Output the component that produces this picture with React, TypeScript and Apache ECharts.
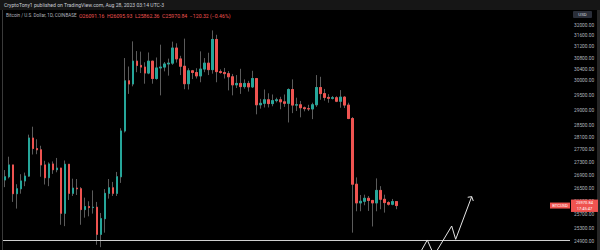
import React, { useEffect, useRef } from "react";
import * as echarts from "echarts";

// ---------- data ----------
const START_DATE = "2023-05-22";
const TOTAL_SLOTS = 142; // 99 candles + empty future space

const opens = [
  26750, 26850, 27220, 26330, 26480, 26720, 26870, 28080, 27740, 27700,
  27220, 26820, 27250, 27070, 27120, 25740, 27240, 26340, 26500, 26480,
  25850, 25940, 25910, 25920, 25120, 25580, 26340, 26510, 26340, 26850,
  28310, 30000, 29890, 30690, 30540, 30480, 30270, 30690, 30080, 30450,
  30480, 30590, 30620, 31160, 30770, 30510, 29900, 30350, 30290, 30170,
  30410, 30620, 30390, 31470, 30320, 30290, 30250, 30140, 29860, 29910,
  29800, 29910, 29790, 30080, 29180, 29230, 29350, 29220, 29320, 29350,
  29280, 29230, 29700, 29170, 29180, 29080, 29050, 29040, 29180, 29770,
  29560, 29430, 29400, 29420, 29300, 29440, 29170, 28720, 26620, 26050,
  26100, 26190, 26125, 26050, 26430, 26160, 26060, 26010, 26091.16,
];
const closes = [
  26850, 27220, 26330, 26480, 26720, 26870, 28080, 27740, 27700, 27220,
  26820, 27250, 27070, 27120, 25740, 27240, 26340, 26500, 26480, 25850,
  25940, 25910, 25920, 25120, 25580, 26340, 26510, 26340, 26850, 28310,
  30000, 29890, 30690, 30540, 30480, 30270, 30690, 30080, 30450, 30480,
  30590, 30620, 31160, 30770, 30510, 29900, 30350, 30290, 30170, 30410,
  30620, 30390, 31470, 30320, 30290, 30250, 30140, 29860, 29910, 29800,
  29910, 29790, 30080, 29180, 29230, 29350, 29220, 29320, 29350, 29280,
  29230, 29700, 29170, 29180, 29080, 29050, 29040, 29180, 29770, 29560,
  29430, 29400, 29420, 29300, 29440, 29170, 28720, 26620, 26050, 26100,
  26190, 26125, 26050, 26430, 26160, 26060, 26010, 26090, 25970.84,
];
const lows = [
  26530, 26800, 26080, 25880, 26330, 26560, 26850, 27550, 27560, 26850,
  26610, 26560, 26940, 26990, 25400, 25360, 26140, 26260, 26290, 25400,
  25610, 25650, 25730, 24820, 24750, 25170, 26180, 26260, 26260, 26660,
  28260, 29550, 29810, 30300, 30270, 29900, 30230, 29900, 30040, 29500,
  30330, 30180, 30560, 30640, 30200, 29710, 29700, 30060, 30080, 29950,
  30300, 30200, 30250, 29950, 30250, 30080, 29670, 29500, 29750, 29550,
  29730, 29630, 29750, 28860, 29050, 29090, 29090, 29130, 29260, 29030,
  29110, 28590, 28900, 28970, 28760, 28960, 28970, 28700, 29110, 29350,
  29320, 29250, 29360, 29270, 29080, 29070, 28700, 25170, 25800, 25800,
  25980, 25810, 25350, 25800, 25860, 25760, 25970, 25980, 25862.36,
];
const highs = [
  27060, 27480, 27220, 26620, 26930, 26980, 28190, 28450, 28040, 27830,
  27350, 27300, 27330, 27440, 27130, 27360, 27250, 26790, 26780, 26530,
  26210, 26100, 26430, 26080, 25750, 26470, 26780, 26690, 27000, 28400,
  30800, 30500, 31400, 31050, 31030, 30650, 31000, 30700, 30820, 31280,
  30660, 30780, 31390, 31330, 30880, 31500, 30440, 30380, 30440, 31040,
  30800, 30990, 31800, 31640, 30400, 30450, 30340, 30240, 30200, 30420,
  30050, 30000, 30350, 30100, 29380, 29700, 29570, 29530, 29420, 29450,
  29530, 29740, 30050, 29420, 29310, 29120, 29180, 29250, 30200, 30140,
  29720, 29540, 29480, 29470, 29680, 29470, 29250, 28770, 26830, 26290,
  26300, 26260, 26140, 26800, 26560, 26300, 26100, 26170, 26095.93,
];

// right price scale labels (USD)
const priceTicks = [
  32000, 31600, 31200, 30800, 30400, 30000, 29500, 29000, 28500, 28100,
  27700, 27300, 26900, 26500, 26100, 25700, 25300, 24900,
];
const Y_MIN = 24670;
const Y_MAX = 32560;

// horizontal support line
const supportLevel = 24950;

// hand-drawn projection zigzag (x in candle slots, y in USD)
const projX = [103.23, 105.76, 107.46, 111.87, 112.87, 116.88];
const projY = [24443, 24957, 24515, 25364, 24977, 26240];
const arrowX = [115.88, 116.88, 117.28];
const arrowY = [26221, 26240, 26109];

const headerText = "CryptoTony1 published on TradingView.com, Aug 28, 2023 03:14 UTC-3";
const symbolText = "Bitcoin / U.S. Dollar, 1D, COINBASE";
const ohlcItems = ["O26091.16", "H26095.93", "L25862.36", "C25970.84", "\u2212120.32 (\u22120.46%)"];
const countdownText = "17:45:47";

const UP = "#26a69a";
const DOWN = "#ef5350";
const WICK = "#5b5b5b";

function makeDates(start: string, n: number): string[] {
  const out: string[] = [];
  const d0 = new Date(start + "T00:00:00Z").getTime();
  for (let i = 0; i < n; i++) {
    out.push(new Date(d0 + i * 86400000).toISOString().slice(0, 10));
  }
  return out;
}

export default function App() {
  const ref = useRef<HTMLDivElement>(null);
  useEffect(() => {
    if (!ref.current) return;
    document.body.style.margin = "0";
    document.body.style.background = "#000";
    const chart = echarts.init(ref.current, null, { renderer: "svg" });
    const cats = makeDates(START_DATE, TOTAL_SLOTS);
    const full = opens.map((o, i) => [o, closes[i], lows[i], highs[i]]);
    const bodies = opens.map((o, i) => [
      o,
      closes[i],
      Math.min(o, closes[i]),
      Math.max(o, closes[i]),
    ]);
    const lastClose = closes[closes.length - 1];

    chart.setOption({
      animation: false,
      backgroundColor: "#000000",
      grid: {
        left: 3,
        right: 30,
        top: 10,
        bottom: 0,
        containLabel: false,
        outerBoundsMode: "none",
      },
      xAxis: [
        { type: "category", data: cats, show: false, boundaryGap: true },
        { type: "value", show: false, min: -0.5, max: TOTAL_SLOTS - 0.5 },
      ],
      yAxis: [
        {
          type: "log",
          logBase: 10,
          position: "right",
          min: Y_MIN,
          max: Y_MAX,
          axisLine: { show: false },
          axisTick: { show: false },
          splitLine: { show: false },
          axisLabel: {
            customValues: priceTicks,
            formatter: (v: number) => Number(v).toFixed(2),
            color: "#b2b5be",
            fontSize: 4.8,
            margin: 4,
            fontFamily: "Roboto",
          },
        },
      ],
      series: [
        {
          type: "candlestick",
          name: "wick",
          data: full,
          barWidth: 2,
          z: 2,
          itemStyle: {
            color: WICK,
            color0: WICK,
            borderColor: WICK,
            borderColor0: WICK,
            borderColorDoji: WICK,
            borderWidth: 1,
          },
        },
        {
          type: "candlestick",
          name: "body",
          data: bodies,
          barWidth: 2,
          z: 3,
          itemStyle: {
            color: UP,
            color0: DOWN,
            borderColor: UP,
            borderColor0: DOWN,
            borderColorDoji: UP,
            borderWidth: 1,
          },
          markLine: {
            silent: true,
            symbol: ["none", "none"],
            label: { show: false },
            lineStyle: { color: "#cfcfcf", width: 1, type: "solid" },
            data: [{ yAxis: supportLevel }],
          },
        },
        {
          type: "line",
          xAxisIndex: 1,
          yAxisIndex: 0,
          data: projX.map((x, i) => [x, projY[i]]),
          symbol: "none",
          z: 5,
          lineStyle: { color: "#e6e6e6", width: 1 },
        },
        {
          type: "line",
          xAxisIndex: 1,
          yAxisIndex: 0,
          data: arrowX.map((x, i) => [x, arrowY[i]]),
          symbol: "none",
          z: 5,
          lineStyle: { color: "#e6e6e6", width: 1 },
        },
      ],
    });

    const py = chart.convertToPixel({ yAxisIndex: 0 }, lastClose) as number;

    chart.setOption({
      graphic: [
        {
          type: "rect",
          z: 50,
          shape: { x: 0, y: 0, width: 600, height: 10 },
          style: { fill: "#161616" },
        },
        {
          type: "text",
          z: 51,
          x: 4,
          y: 5,
          style: {
            text: headerText,
            fill: "#c9ccd4",
            fontSize: 5.1,
            fontFamily: "Roboto",
            verticalAlign: "middle",
          },
        },
        {
          type: "rect",
          z: 50,
          shape: { x: 2, y: 10, width: 1, height: 240 },
          style: { fill: "#3a3a3a" },
        },
        {
          type: "rect",
          z: 50,
          shape: { x: 597, y: 10, width: 3, height: 240 },
          style: { fill: "#262626" },
        },
        {
          type: "text",
          z: 51,
          x: 6,
          y: 15.5,
          style: {
            text: symbolText,
            fill: "#b2b5be",
            fontSize: 4.6,
            fontFamily: "Roboto",
            verticalAlign: "middle",
          },
        },
        {
          type: "text",
          z: 51,
          x: 79,
          y: 15.5,
          style: {
            text: ohlcItems.join("  "),
            fill: DOWN,
            fontSize: 5.2,
            fontFamily: "Roboto",
            verticalAlign: "middle",
          },
        },
        {
          type: "rect",
          z: 50,
          shape: { x: 573, y: 11, width: 19, height: 7, r: 1 },
          style: { fill: "#2a2e39" },
        },
        {
          type: "text",
          z: 51,
          x: 582.5,
          y: 14.5,
          style: {
            text: "USD",
            fill: "#d1d4dc",
            fontSize: 4.4,
            fontFamily: "Roboto",
            align: "center",
            verticalAlign: "middle",
          },
        },
        {
          type: "rect",
          z: 60,
          shape: { x: 550, y: py - 3, width: 20, height: 6 },
          style: { fill: DOWN },
        },
        {
          type: "text",
          z: 61,
          x: 560,
          y: py,
          style: {
            text: "BTCUSD",
            fill: "#ffffff",
            fontSize: 4.2,
            fontFamily: "Roboto",
            align: "center",
            verticalAlign: "middle",
          },
        },
        {
          type: "rect",
          z: 60,
          shape: { x: 571, y: py - 6, width: 27, height: 12.4 },
          style: { fill: DOWN },
        },
        {
          type: "text",
          z: 61,
          x: 584.5,
          y: py - 3,
          style: {
            text: lastClose.toFixed(2),
            fill: "#ffffff",
            fontSize: 4,
            fontFamily: "Roboto",
            align: "center",
            verticalAlign: "middle",
          },
        },
        {
          type: "text",
          z: 61,
          x: 584.5,
          y: py + 3.2,
          style: {
            text: countdownText,
            fill: "#ffffff",
            fontSize: 4,
            fontFamily: "Roboto",
            align: "center",
            verticalAlign: "middle",
          },
        },
      ],
    });

    return () => chart.dispose();
  }, []);

  return <div ref={ref} style={{ width: 600, height: 250 }} />;
}
